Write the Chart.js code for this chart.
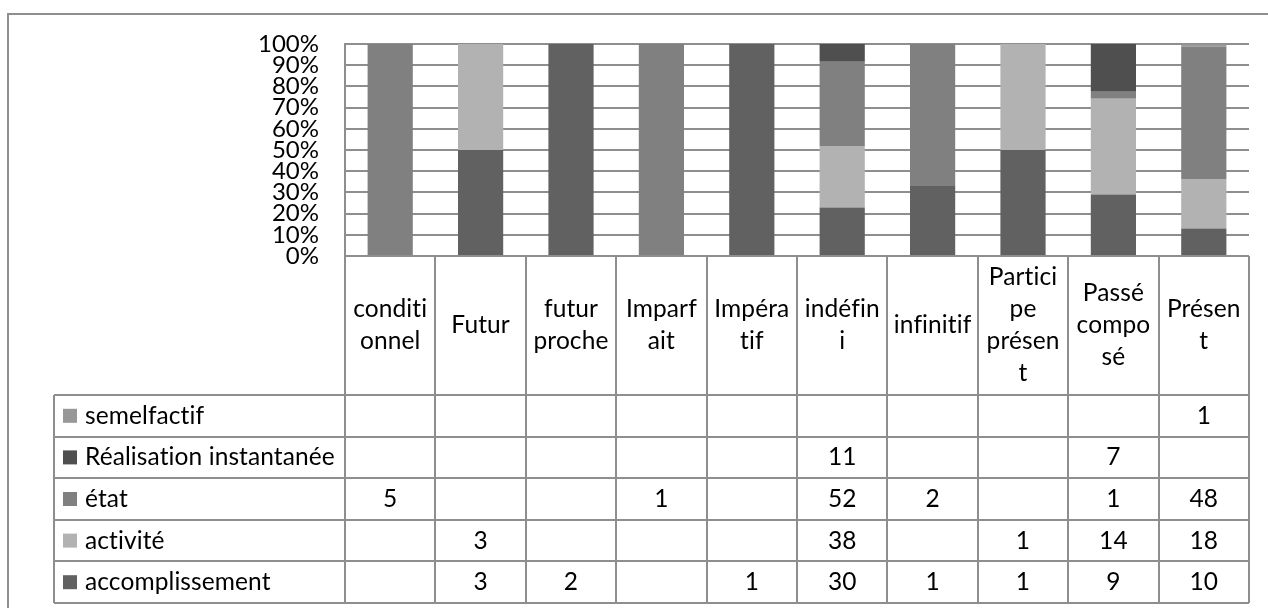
<!DOCTYPE html>
<html>
<head>
<meta charset="utf-8">
<script src="https://cdn.jsdelivr.net/npm/chart.js@4.4.1/dist/chart.umd.min.js"></script>
<style>
  html, body { margin: 0; padding: 0; background: #fff; }
  #wrap { width: 1268px; height: 608px; }
</style>
</head>
<body>
<div id="wrap"><canvas id="chart" width="1268" height="608"></canvas></div>
<script>
const categories = ['conditionnel', 'Futur', 'futur proche', 'Imparfait', 'Impératif', 'indéfini', 'infinitif', 'Participe présent', 'Passé composé', 'Présent'];
// header cells wrap the names like the original table does
const headerLines = [['conditi', 'onnel'], ['Futur'], ['futur', 'proche'], ['Imparf', 'ait'], ['Impéra', 'tif'], ['indéfin', 'i'], ['infinitif'], ['Partici', 'pe', 'présen', 't'], ['Passé', 'compo', 'sé'], ['Présen', 't']];

const seriesNames = ['accomplissement', 'activité', 'état', 'Réalisation instantanée', 'semelfactif'];
const accomplissement = [null, 3, 2, null, 1, 30, 1, 1, 9, 10];
const activite = [null, 3, null, null, null, 38, null, 1, 14, 18];
const etat = [5, null, null, 1, null, 52, 2, null, 1, 48];
const realisation = [null, null, null, null, null, 11, null, null, 7, null];
const semelfactif = [null, null, null, null, null, null, null, null, null, 1];
const yTicks = [0, 10, 20, 30, 40, 50, 60, 70, 80, 90, 100];

const seriesValues = [accomplissement, activite, etat, realisation, semelfactif];
const seriesColors = ['#616161', '#b2b2b2', '#808080', '#4f4f4f', '#979797'];
const lineColor = '#8e8e8e';
const fontFamily = 'Lato, "Noto Sans", sans-serif';
const fontSize = 24.5;

const totals = categories.map((c, i) => seriesValues.reduce((s, arr) => s + (arr[i] || 0), 0));

const datasets = seriesNames.map((name, k) => ({
  label: name,
  data: seriesValues[k].map((v, i) => v ? v / totals[i] * 100 : 0),
  backgroundColor: seriesColors[k],
  borderWidth: 0,
  barPercentage: 0.5,
  categoryPercentage: 1.0
}));

const tablePlugin = {
  id: 'dataTable',
  afterDraw(chart) {
    const ctx = chart.ctx;
    const x = chart.scales.x;
    const area = chart.chartArea;
    const n = categories.length;
    const colW = (x.right - x.left) / n;
    const headTop = area.bottom;
    const headBottom = 395;
    const rowH = 41.6;
    const labelLeft = 54;
    const bottom = headBottom + seriesNames.length * rowH;

    ctx.save();
    // outer frame of the whole chart
    ctx.strokeStyle = lineColor;
    ctx.lineWidth = 2;
    ctx.strokeRect(8, 14, 1400, 800);

    ctx.beginPath();
    for (let i = 0; i <= n; i++) {
      const px = Math.round(x.getPixelForValue(0) - colW / 2 + i * colW);
      ctx.moveTo(px, headTop);
      ctx.lineTo(px, bottom);
    }
    ctx.moveTo(labelLeft, headBottom);
    ctx.lineTo(labelLeft, bottom);
    for (let r = 0; r <= seriesNames.length; r++) {
      const py = Math.round(headBottom + r * rowH);
      ctx.moveTo(labelLeft, py);
      ctx.lineTo(x.right, py);
    }
    ctx.stroke();

    ctx.fillStyle = '#000';
    ctx.font = fontSize + 'px ' + fontFamily;
    // a tiny spacing keeps Lato from merging "ti" into a ligature
    ctx.letterSpacing = '0.1px';
    ctx.textAlign = 'center';
    ctx.textBaseline = 'middle';
    const lh = 32;
    headerLines.forEach((lines, i) => {
      const cx = x.getPixelForValue(i);
      const mid = (headTop + headBottom) / 2;
      lines.forEach((t, j) => {
        ctx.fillText(t, cx, mid + (j - (lines.length - 1) / 2) * lh);
      });
    });

    // rows go top to bottom in reverse stacking order
    for (let r = 0; r < seriesNames.length; r++) {
      const k = seriesNames.length - 1 - r;
      const cy = headBottom + r * rowH + rowH / 2;
      ctx.fillStyle = seriesColors[k];
      ctx.fillRect(63, cy - 7, 14, 14);
      ctx.fillStyle = '#000';
      ctx.textAlign = 'left';
      ctx.fillText(seriesNames[k], 85, cy);
      ctx.textAlign = 'center';
      seriesValues[k].forEach((v, i) => {
        if (v != null) ctx.fillText(String(v), x.getPixelForValue(i), cy);
      });
    }
    ctx.restore();
  }
};

new Chart(document.getElementById('chart'), {
  type: 'bar',
  data: { labels: categories, datasets: datasets },
  options: {
    responsive: false,
    animation: false,
    layout: { padding: { top: 44, right: 19, bottom: 352, left: 0 } },
    plugins: { legend: { display: false }, tooltip: { enabled: false } },
    scales: {
      x: {
        display: false,
        stacked: true
      },
      y: {
        stacked: true,
        min: 0,
        max: 100,
        afterFit(scale) { scale.width = 345; },
        afterBuildTicks(scale) { scale.ticks = yTicks.map(v => ({ value: v })); },
        grid: { color: lineColor, lineWidth: 2, drawTicks: false },
        border: { color: lineColor, width: 2 },
        ticks: {
          autoSkip: false,
          padding: 26,
          color: '#000',
          font: { family: fontFamily, size: 24, lineHeight: 1 },
          callback: v => v + '%'
        }
      }
    }
  },
  plugins: [tablePlugin]
});
</script>
</body>
</html>
